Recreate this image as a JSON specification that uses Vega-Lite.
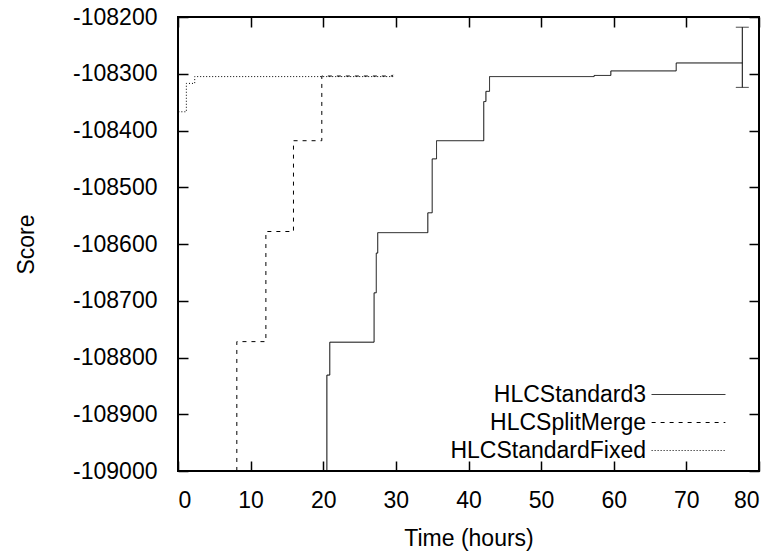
{
  "$schema": "https://vega.github.io/schema/vega-lite/v6.json",
  "width": 581,
  "height": 454,
  "autosize": {"type": "none"},
  "padding": {"left": 178, "top": 17, "right": 22, "bottom": 85},
  "background": "white",
  "config": {
    "font": "Liberation Sans",
    "view": {"stroke": "black", "strokeWidth": 2},
    "axis": {
      "labelFont": "Liberation Sans",
      "labelFontSize": 23,
      "labelColor": "black",
      "titleFont": "Liberation Sans",
      "titleFontSize": 23,
      "titleFontWeight": "normal",
      "titleColor": "black",
      "tickColor": "black",
      "tickWidth": 1.5,
      "tickSize": -10,
      "domain": false,
      "grid": false
    },
    "legend": {
      "labelFont": "Liberation Sans",
      "labelFontSize": 23,
      "labelColor": "black"
    }
  },
  "datasets": {
    "lines": [
      {"series": "HLCStandard3", "t": 20.4, "score": -109300},
      {"series": "HLCStandard3", "t": 20.5, "score": -108831},
      {"series": "HLCStandard3", "t": 20.9, "score": -108773},
      {"series": "HLCStandard3", "t": 27.0, "score": -108686},
      {"series": "HLCStandard3", "t": 27.3, "score": -108616},
      {"series": "HLCStandard3", "t": 27.5, "score": -108580},
      {"series": "HLCStandard3", "t": 34.4, "score": -108545},
      {"series": "HLCStandard3", "t": 35.0, "score": -108450},
      {"series": "HLCStandard3", "t": 35.6, "score": -108418},
      {"series": "HLCStandard3", "t": 42.1, "score": -108349},
      {"series": "HLCStandard3", "t": 42.4, "score": -108331},
      {"series": "HLCStandard3", "t": 42.9, "score": -108305},
      {"series": "HLCStandard3", "t": 57.3, "score": -108303},
      {"series": "HLCStandard3", "t": 59.6, "score": -108295},
      {"series": "HLCStandard3", "t": 68.6, "score": -108281},
      {"series": "HLCStandard3", "t": 77.7, "score": -108281},
      {"series": "HLCSplitMerge", "t": 8.0, "score": -109300},
      {"series": "HLCSplitMerge", "t": 8.1, "score": -108772},
      {"series": "HLCSplitMerge", "t": 12.1, "score": -108578},
      {"series": "HLCSplitMerge", "t": 15.9, "score": -108418},
      {"series": "HLCSplitMerge", "t": 19.8, "score": -108304},
      {"series": "HLCSplitMerge", "t": 29.5, "score": -108302},
      {"series": "HLCStandardFixed", "t": 0.05, "score": -108367},
      {"series": "HLCStandardFixed", "t": 1.15, "score": -108317},
      {"series": "HLCStandardFixed", "t": 2.3, "score": -108305},
      {"series": "HLCStandardFixed", "t": 29.7, "score": -108302}
    ],
    "errorbar": [
      {"t": 77.7, "lo": -108324, "hi": -108218}
    ],
    "caps": [
      {"t": 77.7, "score": -108324},
      {"t": 77.7, "score": -108218}
    ]
  },
  "layer": [
    {
      "data": {"name": "lines"},
      "mark": {"type": "line", "interpolate": "step-after", "clip": true, "color": "black", "strokeWidth": 1},
      "encoding": {
        "x": {
          "field": "t", "type": "quantitative",
          "scale": {"domain": [0, 80], "nice": false, "zero": false},
          "axis": {"orient": "bottom", "title": "Time (hours)", "values": [0,10,20,30,40,50,60,70,80], "labelPadding": 28, "titlePadding": 15}
        },
        "y": {
          "field": "score", "type": "quantitative",
          "scale": {"domain": [-109000, -108200], "nice": false, "zero": false},
          "axis": {"orient": "left", "title": "Score", "values": [-109000,-108900,-108800,-108700,-108600,-108500,-108400,-108300,-108200], "labelExpr": "'' + datum.value", "labelPadding": 31, "titlePadding": 34}
        },
        "strokeDash": {
          "field": "series", "type": "nominal",
          "scale": {"domain": ["HLCStandard3", "HLCSplitMerge", "HLCStandardFixed"], "range": [[1, 0], [4, 5], [1, 2]]},
          "legend": {
            "title": null,
            "orient": "none",
            "legendX": 499,
            "legendY": 366,
            "symbolType": "M-4,0L4,0",
            "symbolSize": 340,
            "symbolStrokeColor": "black",
            "symbolFillColor": "transparent",
            "symbolStrokeWidth": 1,
            "labelAlign": "right",
            "labelOffset": -54,
            "labelLimit": 400,
            "rowPadding": 4
          }
        },
        "detail": {"field": "series"}
      }
    },
    {
      "data": {"name": "errorbar"},
      "mark": {"type": "rule", "color": "black", "strokeWidth": 1},
      "encoding": {
        "x": {"field": "t", "type": "quantitative", "axis": {"orient": "top", "labels": false, "title": null, "values": [0,10,20,30,40,50,60,70,80]}},
        "y": {"field": "lo", "type": "quantitative", "axis": {"orient": "right", "labels": false, "title": null, "values": [-109000,-108900,-108800,-108700,-108600,-108500,-108400,-108300,-108200]}},
        "y2": {"field": "hi"}
      }
    },
    {
      "data": {"name": "caps"},
      "mark": {"type": "tick", "orient": "horizontal", "color": "black", "size": 13, "thickness": 1},
      "encoding": {
        "x": {"field": "t", "type": "quantitative", "axis": null},
        "y": {"field": "score", "type": "quantitative", "axis": null}
      }
    }
  ]
}
